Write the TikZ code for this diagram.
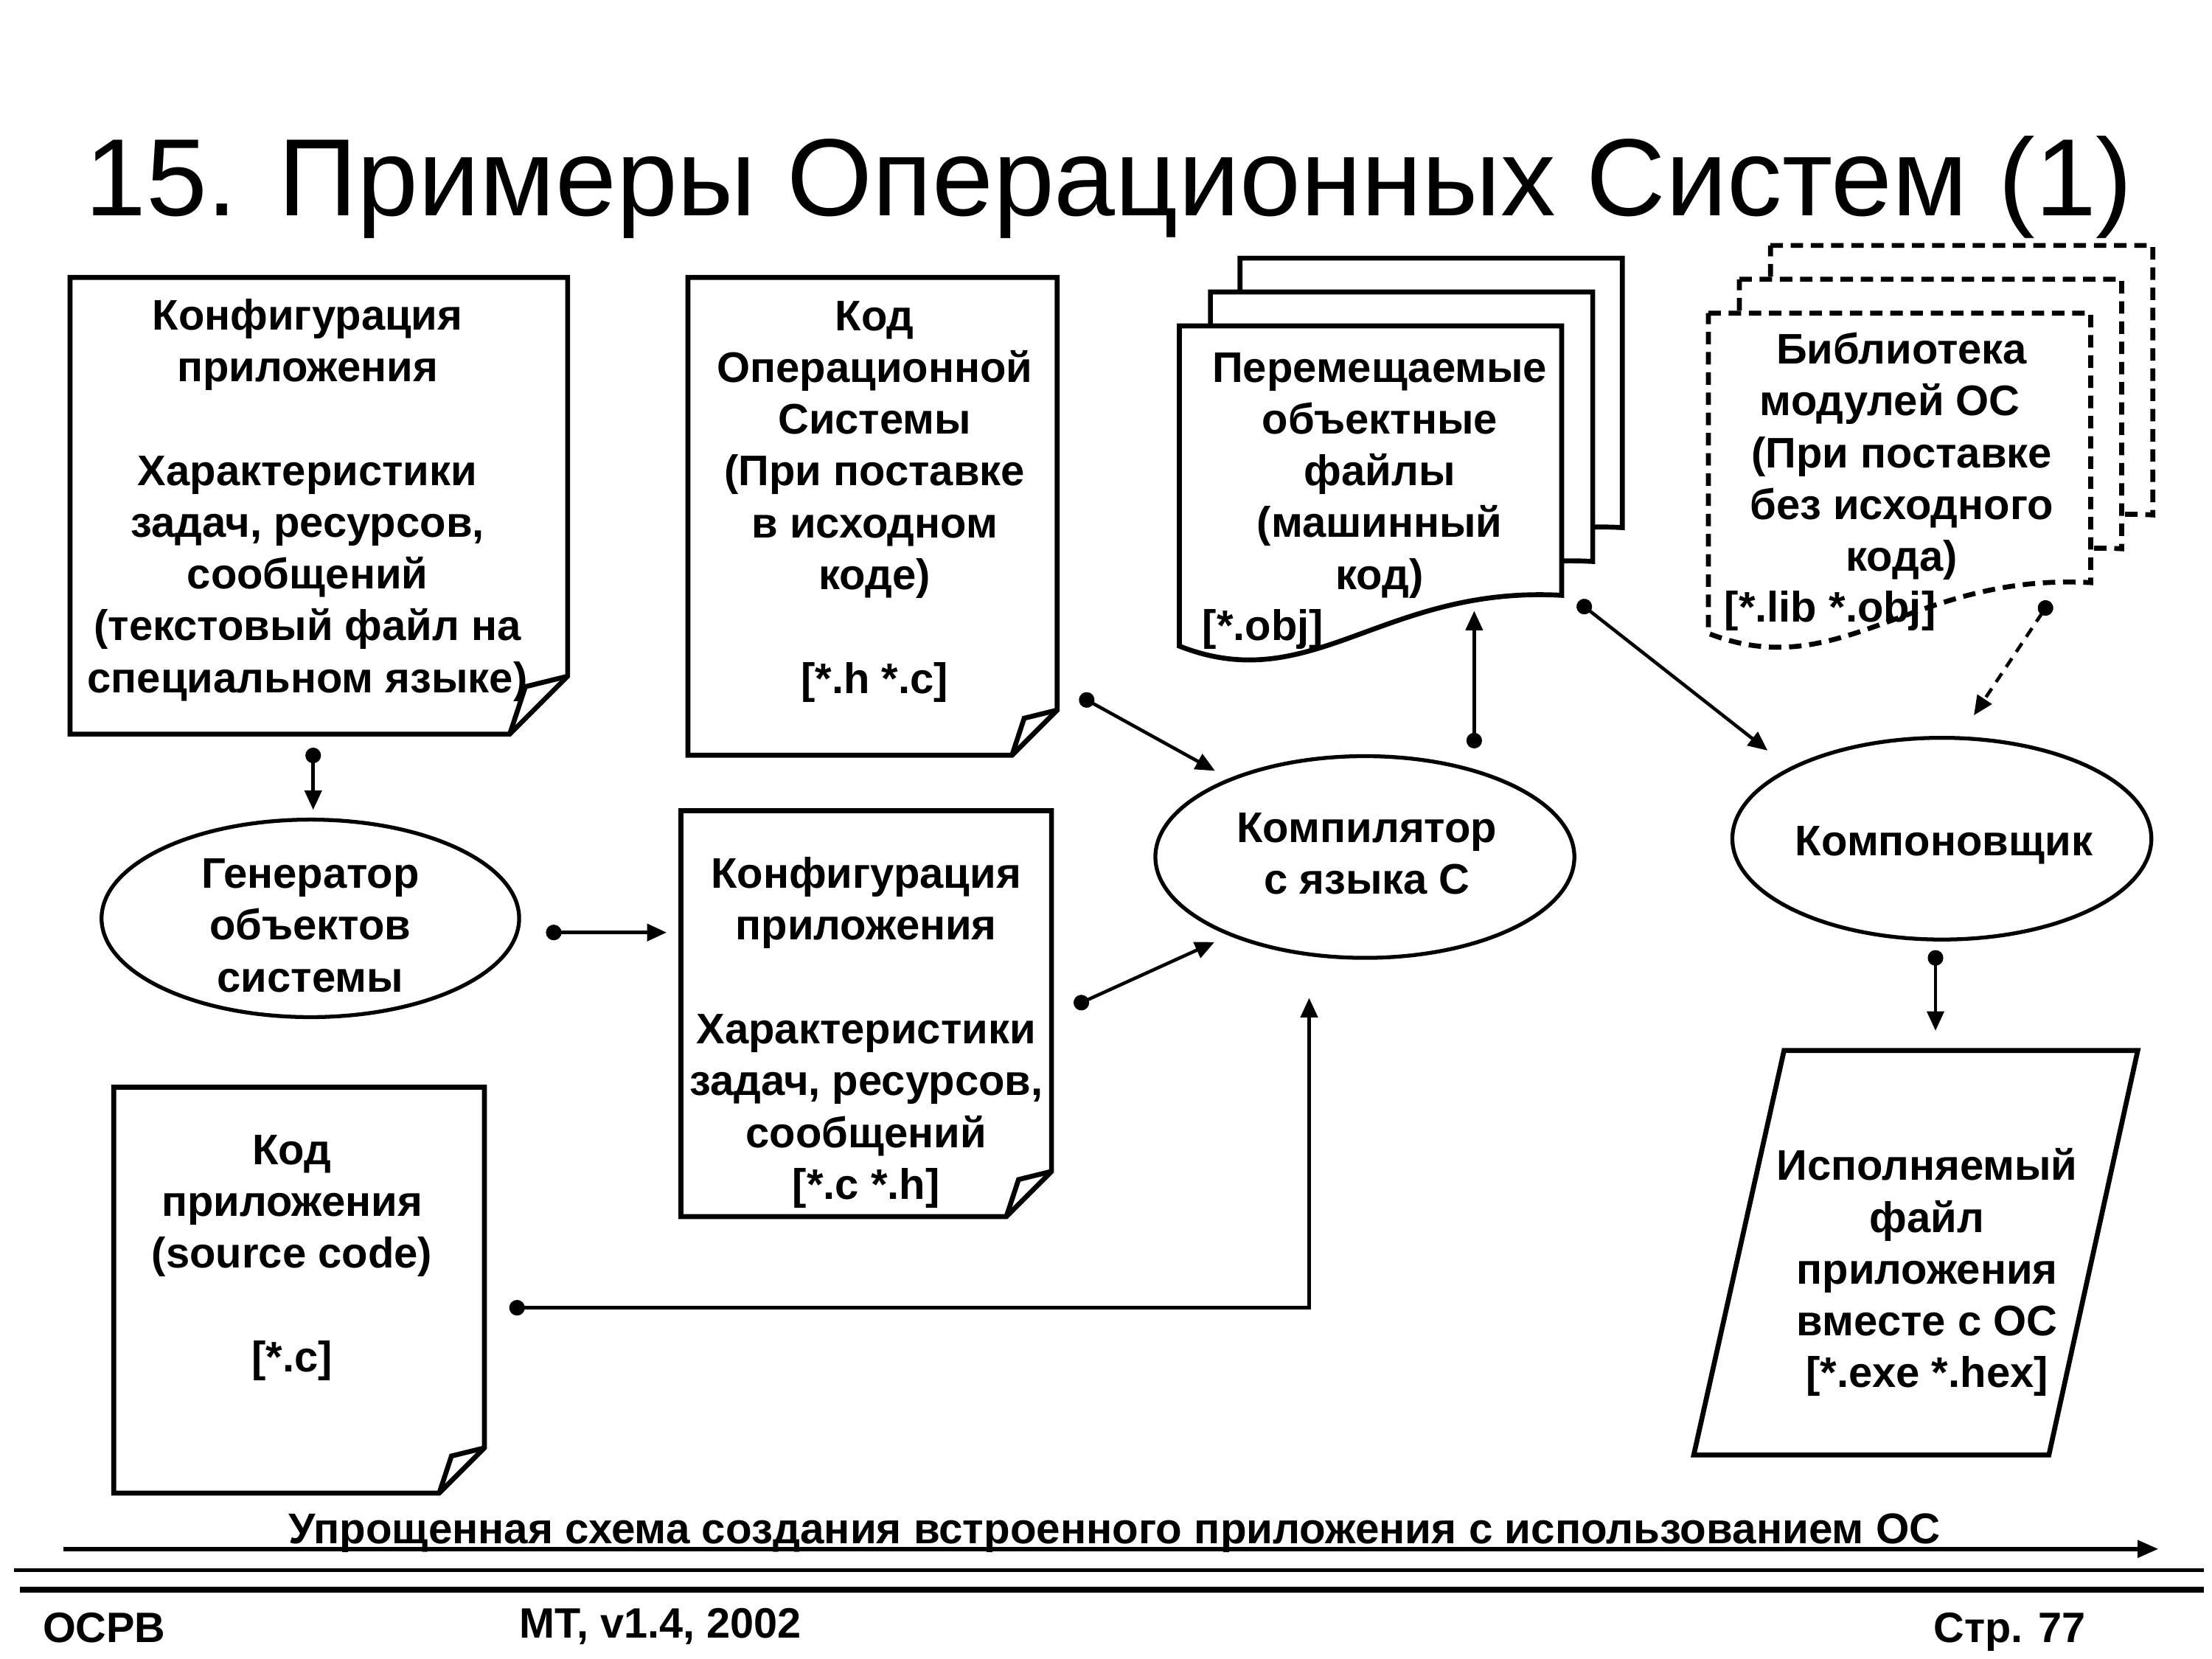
\documentclass[tikz,border=0pt]{standalone}
\usepackage{fontspec}
\setmainfont{Liberation Sans}
\usetikzlibrary{shapes.geometric,arrows.meta,positioning,calc}

\newcommand{\px}{0.0191327cm}
% page with a folded corner, drawn round an empty node
\newcommand{\foldpage}[2]{%
  \draw[outline] (#1.north west) -- (#1.north east) -- ($(#1.south east)+(0,-#2)$)
    -- ($(#1.south east)+(-#2,0)$) -- (#1.south west) -- cycle;
  \draw[outline] ($(#1.south east)+(0,-#2)$) -- ($(#1.south east)+(-0.73*#2,-0.82*#2)$)
    -- ($(#1.south east)+(-#2,0)$);
}
% page with a wavy bottom edge, top left corner at (#2,#3)
\newcommand{\wavepage}[3][]{%
  \draw[outline, fill=white, #1] (#2,#3) -- (#2+271,#3) -- (#2+271,#3+191)
    .. controls (#2+144,#3+184) and (#2+94,#3+264) .. (#2,#3+227) -- cycle;
}

\tikzset
{
    boxsize/.style 2 args = {minimum width=#1*\px, minimum height=#2*\px},
    docpage/.style = {rectangle, inner sep=0pt},
    outline/.style = {draw=black, line width=1.9pt, line join=miter},
    program/.style = {ellipse, draw=black, line width=1.5pt, inner sep=0pt},
    txt/.style     = {align=center, inner sep=0pt, font=\fontsize{16.5}{20}\selectfont\bfseries},
    conn/.style    = {line width=1.3pt, {Circle[length=6pt]}-{Triangle[length=7.5pt, width=6.5pt]}},
    libline/.style = {dash pattern=on 4.8pt off 3pt},
    footer/.style  = {inner sep=0pt, font=\fontsize{16.4}{19}\selectfont\bfseries},
}

\begin{document}
\begin{tikzpicture}[x=\px, y=-\px]
	\useasboundingbox (0,0) rectangle (1568,1176);
	\node[anchor=base, inner sep=0pt, font=\fontsize{42.4}{48}\selectfont] (title) at (786,153) {15. Примеры Операционных Систем (1)};

	% source documents
	\node[docpage, boxsize={352}{323}] (cfgA) at (226,358.5) {};
	\foldpage{cfgA}{41}
	\node[txt] (cfgAtext) at (218,354.5) {Конфигурация\\приложения\\[20pt]Характеристики\\задач, ресурсов,\\сообщений\\(текстовый файл на\\специальном языке)};
	\node[docpage, boxsize={261}{338}] (osA) at (618.5,366) {};
	\foldpage{osA}{32}
	\node[txt] (osAtext) at (620,355.5) {Код\\Операционной\\Системы\\(При поставке\\в исходном\\коде)\\[20pt][*.h *.c]};
	\node[docpage, boxsize={262}{287}] (cfgB) at (614,718.5) {};
	\foldpage{cfgB}{32}
	\node[txt] (cfgBtext) at (614,732) {Конфигурация\\приложения\\[20pt]Характеристики\\задач, ресурсов,\\сообщений\\{[*.c *.h]}};
	\node[docpage, boxsize={262}{287}] (appA) at (212,914.5) {};
	\foldpage{appA}{32}
	\node[txt] (appAtext) at (207,891.5) {Код\\приложения\\(source code)\\[20pt]{[*.c]}};

	% object files and library
	\wavepage{879}{183}
	\wavepage{858}{207}
	\wavepage{836}{231}
	\node[txt] (objtext) at (978,337) {Перемещаемые\\объектные\\файлы\\(машинный\\код)};
	\node[txt, anchor=base west] (objext) at (852,454) {[*.obj]};
	\wavepage[libline]{1255}{174}
	\wavepage[libline]{1233}{198}
	\wavepage[libline]{1211}{222}
	\node[txt] (libtext) at (1348,323.5) {Библиотека\\модулей ОС\kern9pt\\(При поставке\\без исходного\\кода)};
	\node[txt, anchor=base west] (libext) at (1222,441) {[*.lib *.obj]};

	% tools
	\node[program, boxsize={296}{140}] (gen) at (220,651) {};
	\node[txt] (gentext) at (220,656) {Генератор\\объектов\\системы};
	\node[program, boxsize={297}{143}] (comp) at (967.5,607.5) {};
	\node[txt] (comptext) at (969,605) {Компилятор\\с языка С};
	\node[program, boxsize={297}{143}] (linker) at (1376.5,594.5) {};
	\node[txt] (linkertext) at (1378,599) {Компоновщик};

	% result
	\node[docpage, boxsize={314}{286}] (exe) at (1358,888) {};
	\draw[outline] ($(exe.north west)+(64,0)$) -- (exe.north east) -- ($(exe.south east)+(-63,0)$) -- (exe.south west) -- cycle;
	\node[txt] (exetext) at (1366,902) {Исполняемый\\файл\\приложения\\вместе с ОС\\{[*.exe *.hex]}};

	% connectors
	\coordinate (cfgAout) at (222,530);
	\draw[conn, shorten >=3pt] (cfgAout) -- (cfgAout |- gen.north);
	\coordinate (genout) at (387,661);
	\draw[conn, shorten >=5.5pt] (genout) -- (genout -| cfgB.west);
	\coordinate (osAout) at (765.5,493.5);
	\draw[conn, shorten >=6pt] (osAout) -- (comp.150);
	\coordinate (cfgBout) at (761.5,713);
	\draw[conn, shorten >=6pt] (cfgBout) -- (comp.210);
	\coordinate (appAout) at (361,927);
	\draw[conn, shorten >=14.7pt] (appAout) -| ($(comp.south)+(-39.5,0)$);
	\coordinate (compout) at (1045,530.5);
	\coordinate (objin) at (1045,426);
	\draw[conn, shorten >=3.8pt] (compout) -- (objin);
	\coordinate (objout) at (1118.7,426.6);
	\draw[conn, shorten >=10.6pt] (objout) -- (linker.155);
	\coordinate (libout) at (1453,426.4);
	\draw[conn, dash pattern=on 4pt off 3pt, shorten >=9.7pt] (libout) -- (linker.80);
	\coordinate (linkerout) at (1372,673.5);
	\draw[conn, shorten >=7.6pt] (linkerout) -- (linkerout |- exe.north);

	% footer
	\coordinate (flowstart) at (45,1098);
	\coordinate (flowend) at (1530,1098);
	\draw[line width=1.6pt, -{Triangle[length=8pt, width=6.5pt]}] (flowstart) -- (flowend);
	\node[footer, anchor=base, font=\fontsize{16.6}{19}\selectfont\bfseries] (caption) at (790,1094) {Упрощенная схема создания встроенного приложения с использованием ОС};
	\draw[line width=1.25pt] (10,1113) -- (1562,1113);
	\draw[line width=2.4pt] (14,1127) -- (1562,1127);
	\node[footer, anchor=base west] (osrv) at (30,1164) {ОСРВ};
	\node[footer, anchor=base west] (ver) at (368,1161) {МТ, v1.4, 2002};
	\node[footer, anchor=base east] (page) at (1479,1164) {Стр. 77};
\end{tikzpicture}
\end{document}
